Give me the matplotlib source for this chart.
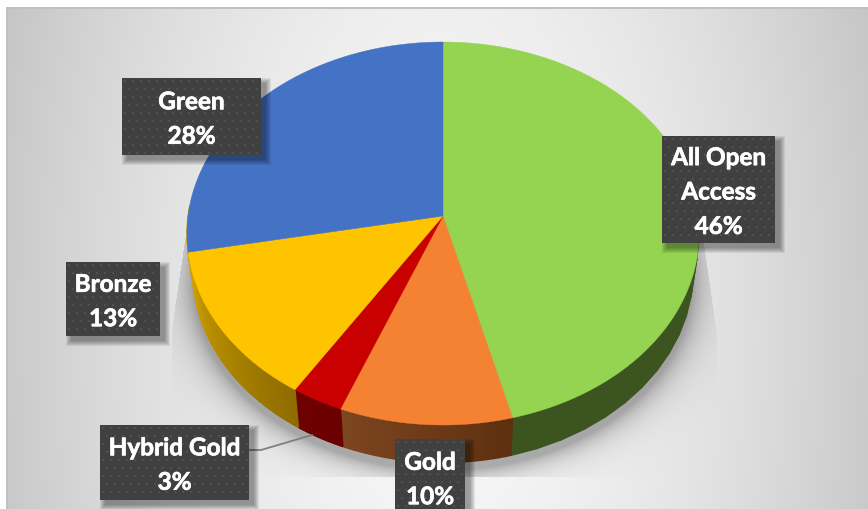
import numpy as np
import matplotlib
matplotlib.use("Agg")
import matplotlib.pyplot as plt
import matplotlib.patheffects as pe
from matplotlib.colors import to_rgb
from matplotlib.patches import Rectangle

# Slices run clockwise from 12 o'clock
categories = ["All Open\nAccess", "Gold", "Hybrid Gold", "Bronze", "Green"]
shares = [46, 10, 3, 13, 28]

top_colors = ["#94D451", "#F58233", "#C80000", "#FFC400", "#4472C4"]
wall_left = ["#3C5420", "#7D4520", "#6E0000", "#CDA000", "#CDA000"]
wall_right = ["#3C5420", "#5E3010", "#6A0000", "#8F6C00", "#CDA000"]

# label boxes: x0, y0, x1, y1 in pixels
label_boxes = [(662, 137, 775, 244), (395, 440, 465, 516), (100, 426, 249, 501),
               (66, 263, 160, 337), (122, 79, 261, 156)]

W, H = 868, 510
TILT = 0.0914


def project(theta, apex_y, rx, ry):
    """Perspective projection of the unit circle, theta clockwise from the top."""
    u, v = np.sin(theta), np.cos(theta)
    w = 1 + TILT * v
    return 443 + rx * u / w, apex_y - ry * v / w


def backdrop():
    yy, xx = np.mgrid[0:H, 0:W] + 0.5
    t = np.sqrt(((xx - 440) / 440) ** 2 + ((yy - 330) / 900) ** 2)
    grey = 247 - 46 * np.clip(t, 0, 1.2) ** 1.7

    # soft shadow around the lower rim of the pie
    e = np.sqrt(((xx - 443) / 250) ** 2 + ((yy - 281) / 190) ** 2)
    dist = (e - 1) * 220
    alpha = 0.30 * np.exp(-np.clip(dist, 0, None) / 14)
    # shadow is cut off along straight edges
    right_edge = np.minimum(704 + (yy - 245) * 13 / 90, 717)
    left_edge = np.maximum(189 - (yy - 215) * 17 / 115, 172)
    alpha[(xx > right_edge) | (xx < left_edge) | (yy > 478) | (yy < 215)] = 0
    grey = grey * (1 - alpha)

    img = np.repeat(grey[:, :, None], 3, axis=2) / 255
    img[:8, :] = 1
    img[:, :6] = 1
    img[8:10, 6:] = 0.76
    img[8:, 6:8] = 0.76
    return img


fig = plt.figure(figsize=(W / 100, H / 100), dpi=100)
ax = fig.add_axes([0, 0, 1, 1])
ax.set_xlim(0, W)
ax.set_ylim(H, 0)
ax.axis("off")
ax.imshow(backdrop(), extent=(0, W, H, 0), aspect="auto", zorder=0, interpolation="nearest")

edges = np.cumsum([0] + shares) / sum(shares) * 2 * np.pi

# side walls first, shaded strip by strip; the back half stays hidden
for i in range(len(shares)):
    steps = np.linspace(edges[i], edges[i + 1], 30)
    c0, c1 = np.array(to_rgb(wall_left[i])), np.array(to_rgb(wall_right[i]))
    for j in range(len(steps) - 1):
        pair = steps[j:j + 2]
        if np.cos(pair).max() > 0.1:
            continue
        xt, yt = project(pair, 217, 255, 189.9)
        xb, yb = project(pair, 255.5, 249, 189)
        # clockwise travel ends on the left side of the slice
        frac = 1 - j / (len(steps) - 2)
        col = c0 + (c1 - c0) * frac
        ax.fill(np.r_[xt, xb[::-1]], np.r_[yt, yb[::-1]], color=col, lw=1.0, zorder=2)

# top faces
for i in range(len(shares)):
    steps = np.linspace(edges[i], edges[i + 1], 200)
    x, y = project(steps, 217, 255, 189.9)
    ax.fill(np.r_[443, x], np.r_[217, y], color=top_colors[i], lw=0.3, zorder=3)

# leader line for the small slice
ax.plot([249, 261, 312], [451, 451, 436], color="#7F7F7F", lw=1.3, zorder=4)

for name, share, (x0, y0, x1, y1) in zip(categories, shares, label_boxes):
    # blurred drop shadow from stacked translucent rectangles
    for grow in range(5, -1, -1):
        ax.add_patch(Rectangle((x0 + 5 - grow, y0 + 5 - grow), x1 - x0 + 2 * grow, y1 - y0 + 2 * grow,
                               fc="black", ec="none", alpha=0.07, zorder=5))
    ax.add_patch(Rectangle((x0, y0), x1 - x0, y1 - y0, fc="#404040", ec="none", zorder=6))

    # dotted texture on the label box
    gx, gy = np.meshgrid(np.arange(x0 + 3, x1 - 1, 8.0), np.arange(y0 + 3, y1 - 1, 8.0))
    gx[1::2] += 4
    keep = gx < x1 - 1
    ax.scatter(gx[keep], gy[keep], s=2.2, marker="s", c="#505050", linewidths=0, zorder=7)

    label = ax.text((x0 + x1) / 2, (y0 + y1) / 2 + 2.5, f"{name}\n{share}%", color="white",
                    family=["Lato", "DejaVu Sans"], weight="bold", fontsize=17.5, ha="center",
                    va="center", linespacing=1.6, zorder=8)
    label.set_path_effects([pe.withStroke(linewidth=0.5, foreground="white")])

fig.savefig("out.png", dpi=100)
